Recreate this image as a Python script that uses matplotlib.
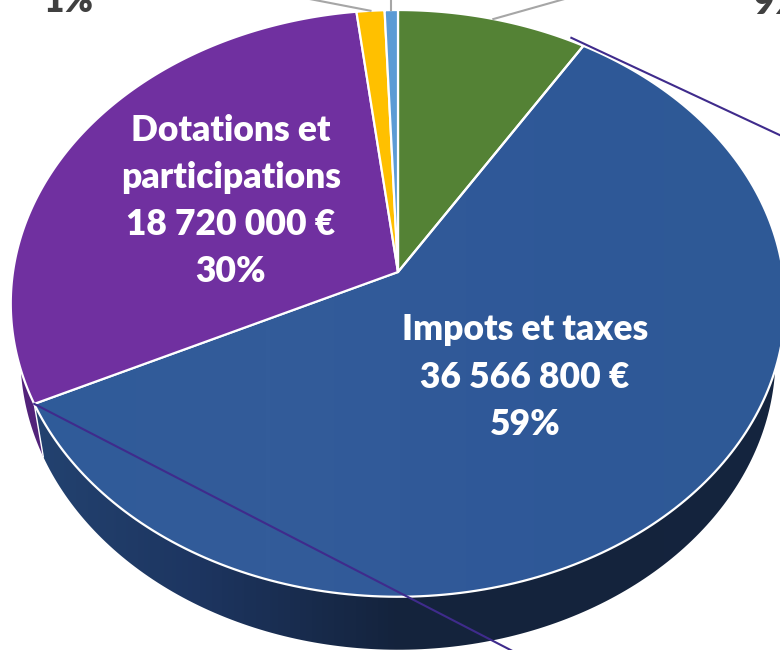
import numpy as np
import matplotlib
matplotlib.use('Agg')
from matplotlib import pyplot, colors
from matplotlib.patches import Polygon

# budget shares, clockwise from the top of the pie
names = ['Autres', 'Impots et taxes', 'Dotations et\nparticipations', 'Divers', 'Produits']
values = [5450000, 36566800, 18720000, 800000, 380000]
amounts = ['', '36 566 800 €', '18 720 000 €', '', '']
percents = ['9%', '59%', '30%', '1%', '1%']
slice_colors = ['#548235', '#2f5898', '#7030a0', '#ffc000', '#5b9bd5']

pyplot.rcParams['font.family'] = ['Lato', 'DejaVu Sans']

fig = pyplot.figure(figsize=(7.8, 6.5), dpi=100)
ax = fig.add_axes([0, 0, 1, 1])

# tilted disc, drawn with a perspective so the apex sits above the ellipse centre
cx, cy = 398, 272
a, b, k = 385, 290, 0.107
depth = 53
shrink = 0.975


def project(frac):
    ang = 2 * np.pi * np.asarray(frac)
    u, v = np.sin(ang), np.cos(ang)
    w = 1 + k * v
    return cx + a * u / w, cy - b * v / w


def arc(f0, f1, n=200):
    x, y = project(np.linspace(f0, f1, n))
    return np.column_stack([x, y])


def lower(pts):
    # same rim, one wall height down and a little narrower
    return np.column_stack([cx + (pts[:, 0] - cx) * shrink, pts[:, 1] + depth])


def gradient(patch, stops):
    ax.add_patch(patch)
    cmap = colors.LinearSegmentedColormap.from_list('g', stops)
    im = ax.imshow(np.linspace(0, 1, 400).reshape(1, -1), cmap=cmap, aspect='auto',
                   extent=[0, 800, 700, 0], zorder=patch.get_zorder())
    im.set_clip_path(patch)


edges = np.concatenate([[0], np.cumsum(values)]) / sum(values)

# side wall
wall_end = edges[2]
rim = arc(0.2, wall_end)
wall = Polygon(np.vstack([rim, lower(rim)[::-1]]), closed=True, fc='none', ec='none', zorder=1)
gradient(wall, ['#244573', '#1d3560', '#14233c', '#14233c', '#15253f'])

rim = arc(wall_end, 0.75)
wall2 = Polygon(np.vstack([rim, lower(rim)[::-1]]), closed=True, fc='#52237a', ec='none', zorder=1)
ax.add_patch(wall2)
corner = arc(wall_end, wall_end, 1)
corner_low = lower(corner)
ax.plot([corner[0, 0], corner_low[0, 0]], [corner[0, 1], corner_low[0, 1]], color='white', lw=1.0, zorder=1.5)

# top face
for i in range(len(values)):
    pts = np.vstack([[cx, cy], arc(edges[i], edges[i + 1])])
    if i == 1:
        body = Polygon(pts, closed=True, fc='none', ec='none', zorder=2)
        gradient(body, ['#2f5b99', '#335c9a', '#2f5898', '#2e5a96'])
        ax.add_patch(Polygon(pts, closed=True, fc='none', ec='white', lw=1.6, zorder=2.5, joinstyle='round'))
    else:
        ax.add_patch(Polygon(pts, closed=True, fc=slice_colors[i], ec='white', lw=1.6, zorder=2.5, joinstyle='round'))

# series lines running across the pie
line_color = '#3f2b8c'
x1, y1 = project(edges[1])
ax.plot([x1 - 12, x1 + 198], [y1 - 8, y1 + 90], color=line_color, lw=1.5, zorder=3)
x2, y2 = project(edges[2])
ax.plot([x2, x2 + 480], [y2, y2 + 248], color=line_color, lw=1.5, zorder=3)

# leader lines to the outside labels
leader = '#a6a6a6'
for i, dx, dy in [(0, 71, -20), (3, -62, -12), (4, 0, -12)]:
    mid = (edges[i] + edges[i + 1]) / 2
    xm, ym = project(mid)
    ax.plot([xm, xm + dx], [ym, ym + dy], color=leader, lw=1.5, zorder=3)

# labels
ax.text(525, 377, names[1] + '\n' + amounts[1] + '\n' + percents[1], color='white', fontsize=25.5,
        fontweight='heavy', ha='center', va='center', linespacing=1.53, zorder=4)
ax.text(231, 201, names[2] + '\n' + amounts[2] + '\n' + percents[2], color='white', fontsize=25.5,
        fontweight='heavy', ha='center', va='center', linespacing=1.53, zorder=4)
ax.text(68, 1, percents[3], color='#404040', fontsize=25.5, fontweight='heavy', ha='center', va='center', zorder=4)
ax.text(754, 3, percents[0], color='#404040', fontsize=25.5, fontweight='heavy', ha='left', va='center', zorder=4)

ax.set_xlim(0, 780)
ax.set_ylim(650, 0)
ax.axis('off')
fig.savefig('out.png', dpi=100)
pyplot.close('all')
